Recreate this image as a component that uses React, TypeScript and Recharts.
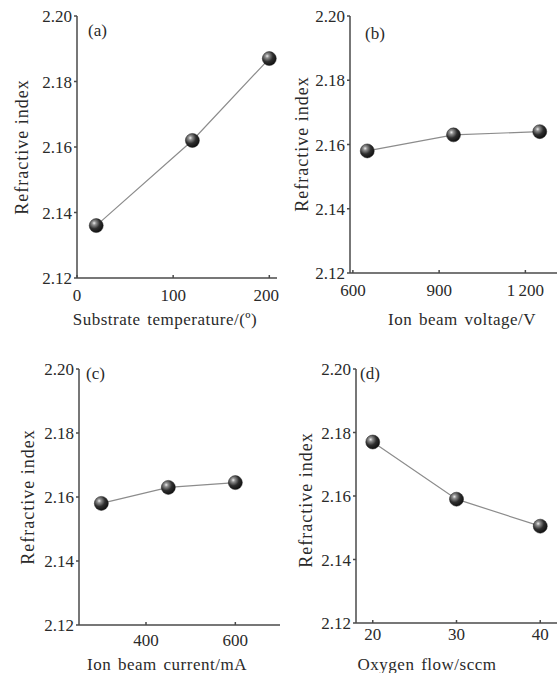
import { Line, LineChart, XAxis, YAxis } from "recharts";

// Refractive index vs. deposition parameters, four panels (a)-(d).
const yTicks = [2.12, 2.14, 2.16, 2.18, 2.2];

const tempX = [20, 120, 200];
const tempN = [2.136, 2.162, 2.187];
const tempTicks = [0, 100, 200];

const voltX = [650, 950, 1250];
const voltN = [2.158, 2.163, 2.164];
const voltTicks = [600, 900, 1200];

const currX = [300, 450, 600];
const currN = [2.158, 2.163, 2.1645];
const currTicks = [400, 600];

const oxyX = [20, 30, 40];
const oxyN = [2.177, 2.159, 2.1505];
const oxyTicks = [20, 30, 40];

const FONT = '"Liberation Serif", "Times New Roman", serif';
const INK = "#2a2a2a";
const AXIS = "#4a4a4a";

interface Rect {
  left: number;
  top: number;
  right: number;
  bottom: number;
}

interface PanelProps {
  id: string;
  tag: string;
  xs: number[];
  ys: number[];
  xDomain: [number, number];
  xTicks: number[];
  xTitle: string;
  plot: Rect;
  xTickMargin: number;
  xTitleAt: [number, number];
  yTitleAt: [number, number];
  tagAt: [number, number];
}

const fmtX = (v: number) =>
  v >= 1000 ? `${Math.floor(v / 1000)}\u2009${String(v % 1000).padStart(3, "0")}` : `${v}`;

function ballDot(id: string) {
  return (props: { cx?: number; cy?: number; index?: number }) => (
    <circle
      key={`ball-${id}-${props.index}`}
      cx={props.cx}
      cy={props.cy}
      r={7}
      fill={`url(#ball-${id})`}
      stroke="#1e1e1e"
      strokeWidth={0.5}
    />
  );
}

function Panel(p: PanelProps) {
  const data = p.xs.map((x, i) => ({ x, n: p.ys[i] }));
  // chart box sized around the plot area so axes land on the measured pixels
  const box = {
    left: p.plot.left - 60,
    top: p.plot.top - 10,
    width: p.plot.right + 2 - (p.plot.left - 60),
    height: p.plot.bottom + 35 - (p.plot.top - 10),
  };
  const tickStyle = { fill: INK, fontSize: 17, fontFamily: FONT };

  return (
    <>
      <div style={{ position: "absolute", left: box.left, top: box.top }}>
        <LineChart
          width={box.width}
          height={box.height}
          data={data}
          margin={{ top: 10, left: 10, right: 2, bottom: 5 }}
        >
          <defs>
            <radialGradient id={`ball-${p.id}`} cx="35%" cy="32%" r="70%">
              <stop offset="0%" stopColor="#eeeeee" />
              <stop offset="20%" stopColor="#8f8f8f" />
              <stop offset="58%" stopColor="#2e2e2e" />
              <stop offset="100%" stopColor="#101010" />
            </radialGradient>
          </defs>
          <XAxis
            type="number"
            dataKey="x"
            domain={p.xDomain}
            ticks={p.xTicks}
            allowDataOverflow
            height={30}
            stroke={AXIS}
            strokeWidth={1.5}
            tickSize={-3}
            tickMargin={p.xTickMargin}
            tick={tickStyle}
            tickFormatter={fmtX}
          />
          <YAxis
            type="number"
            domain={[2.12, 2.2]}
            ticks={yTicks}
            allowDataOverflow
            width={50}
            stroke={AXIS}
            strokeWidth={1.5}
            tickSize={3}
            tickMargin={2}
            tick={tickStyle}
            tickFormatter={(v: number) => v.toFixed(2)}
          />
          <Line
            type="linear"
            dataKey="n"
            stroke="#8c8c8c"
            strokeWidth={1.2}
            dot={ballDot(p.id)}
            activeDot={false}
            isAnimationActive={false}
          />
        </LineChart>
      </div>
      <div
        style={{
          position: "absolute",
          left: p.tagAt[0],
          top: p.tagAt[1],
          transform: "translateY(-50%)",
          fontFamily: FONT,
          fontSize: 17,
          color: INK,
          lineHeight: 1,
        }}
      >
        {p.tag}
      </div>
      <div
        style={{
          position: "absolute",
          left: p.xTitleAt[0],
          top: p.xTitleAt[1],
          transform: "translate(-50%, -50%)",
          fontFamily: FONT,
          fontSize: 17,
          letterSpacing: 0.5,
          wordSpacing: 2,
          color: INK,
          whiteSpace: "nowrap",
          lineHeight: 1,
        }}
      >
        {p.xTitle}
      </div>
      <div
        style={{
          position: "absolute",
          left: p.yTitleAt[0],
          top: p.yTitleAt[1],
          transform: "translate(-50%, -50%) rotate(-90deg)",
          fontFamily: FONT,
          fontSize: 18,
          letterSpacing: 1,
          color: INK,
          whiteSpace: "nowrap",
          lineHeight: 1,
        }}
      >
        Refractive index
      </div>
    </>
  );
}

export default function App() {
  return (
    <div
      style={{
        position: "absolute",
        left: 0,
        top: 0,
        width: 557,
        height: 673,
        overflow: "hidden",
        background: "#fff",
      }}
    >
      <Panel
        id="a"
        tag="(a)"
        xs={tempX}
        ys={tempN}
        xDomain={[0, 208]}
        xTicks={tempTicks}
        xTitle="Substrate temperature/(º)"
        plot={{ left: 77, top: 16, right: 277, bottom: 278 }}
        xTickMargin={14}
        xTitleAt={[165, 319]}
        yTitleAt={[22, 147]}
        tagAt={[88, 30]}
      />
      <Panel
        id="b"
        tag="(b)"
        xs={voltX}
        ys={voltN}
        xDomain={[590, 1310]}
        xTicks={voltTicks}
        xTitle="Ion beam voltage/V"
        plot={{ left: 350, top: 16, right: 557, bottom: 273 }}
        xTickMargin={14}
        xTitleAt={[462, 319]}
        yTitleAt={[302, 144]}
        tagAt={[365, 33]}
      />
      <Panel
        id="c"
        tag="(c)"
        xs={currX}
        ys={currN}
        xDomain={[250, 700]}
        xTicks={currTicks}
        xTitle="Ion beam current/mA"
        plot={{ left: 79, top: 369, right: 280, bottom: 625 }}
        xTickMargin={12}
        xTitleAt={[167, 664]}
        yTitleAt={[28, 497]}
        tagAt={[86, 373]}
      />
      <Panel
        id="d"
        tag="(d)"
        xs={oxyX}
        ys={oxyN}
        xDomain={[18, 42]}
        xTicks={oxyTicks}
        xTitle="Oxygen flow/sccm"
        plot={{ left: 356, top: 369, right: 557, bottom: 623 }}
        xTickMargin={8}
        xTitleAt={[427, 664]}
        yTitleAt={[306, 500]}
        tagAt={[360, 373]}
      />
    </div>
  );
}
